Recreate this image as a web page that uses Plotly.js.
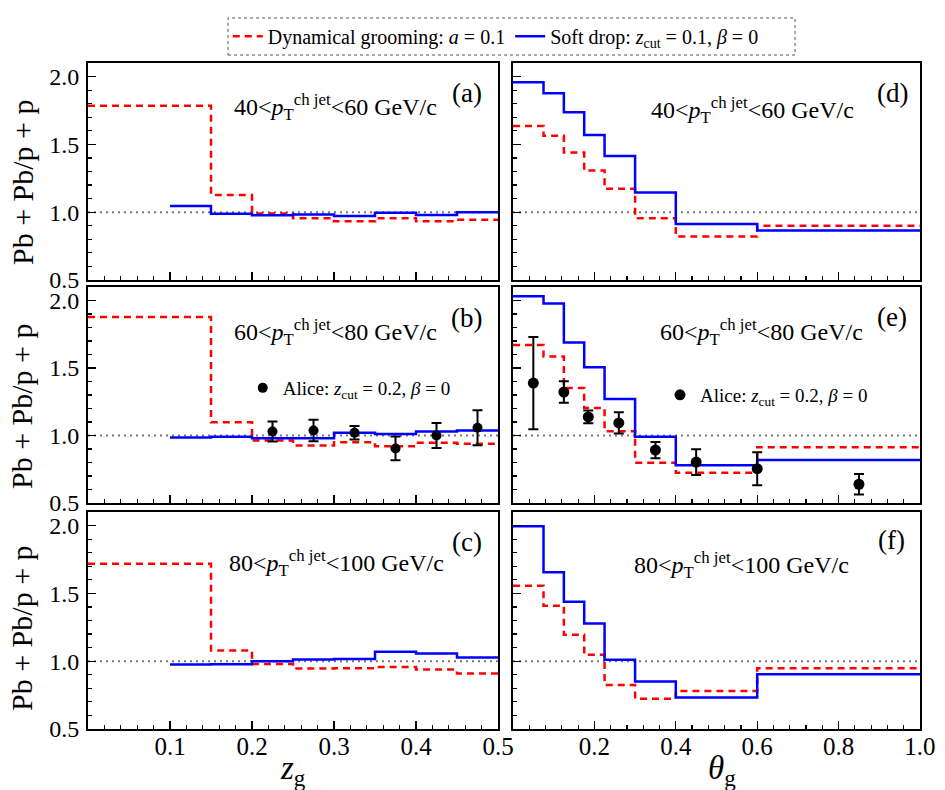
<!DOCTYPE html>
<html>
<head>
<meta charset="utf-8">
<script src="https://cdn.plot.ly/plotly-3.0.1.min.js"></script>
<style>html,body{margin:0;padding:0;background:#fff;}#chart{width:945px;height:790px;}</style>
</head>
<body>
<div id="chart"></div>
<script>
// ---- Data ----
const zEdgesDG = [0, 0.15, 0.2, 0.25, 0.3, 0.35, 0.4, 0.45, 0.5];
const zEdgesSD = [0.1, 0.15, 0.2, 0.25, 0.3, 0.35, 0.4, 0.45, 0.5];
const thEdges = [0, 0.075, 0.125, 0.175, 0.225, 0.3, 0.4, 0.6, 1.0];

const zgDG_40_60 = [1.785, 1.127, 0.99, 0.956, 0.934, 0.956, 0.934, 0.944];
const zgSD_40_60 = [1.046, 0.988, 0.978, 0.983, 0.971, 0.995, 0.98, 1.0];
const zgDG_60_80 = [1.877, 1.098, 0.963, 0.926, 0.951, 0.921, 0.946, 0.939];
const zgSD_60_80 = [0.985, 0.99, 0.98, 0.98, 1.02, 1.012, 1.03, 1.037];
const zgDG_80_100 = [1.718, 1.078, 0.98, 0.946, 0.948, 0.958, 0.939, 0.909];
const zgSD_80_100 = [0.975, 0.977, 1.0, 1.012, 1.017, 1.069, 1.056, 1.027];

const thDG_40_60 = [1.636, 1.563, 1.44, 1.307, 1.172, 0.956, 0.82, 0.9];
const thSD_40_60 = [1.958, 1.877, 1.737, 1.570, 1.415, 1.145, 0.912, 0.865];
const thDG_60_80 = [1.671, 1.585, 1.351, 1.204, 1.032, 0.799, 0.725, 0.914];
const thSD_60_80 = [2.032, 1.978, 1.688, 1.506, 1.27, 0.99, 0.779, 0.818];
const thDG_80_100 = [1.557, 1.409, 1.195, 1.047, 0.825, 0.724, 0.78, 0.948];
const thSD_80_100 = [1.995, 1.655, 1.438, 1.278, 1.01, 0.85, 0.732, 0.904];

const aliceZgX = [0.225, 0.275, 0.325, 0.375, 0.425, 0.475];
const aliceZgY = [1.03, 1.037, 1.02, 0.904, 1.0, 1.057];
const aliceZgErr = [0.074, 0.08, 0.05, 0.088, 0.092, 0.13];
const aliceThX = [0.05, 0.125, 0.185, 0.26, 0.35, 0.45, 0.6, 0.85];
const aliceThY = [1.388, 1.322, 1.138, 1.093, 0.892, 0.803, 0.754, 0.639];
const aliceThErr = [0.342, 0.08, 0.047, 0.079, 0.06, 0.095, 0.122, 0.076];

const zTickVals = [0.1, 0.2, 0.3, 0.4, 0.5];
const zTickText = ['0.1', '0.2', '0.3', '0.4', '0.5'];
const thTickVals = [0.2, 0.4, 0.6, 0.8, 1.0];
const thTickText = ['0.2', '0.4', '0.6', '0.8', '1.0'];
const yTickVals = [0.5, 1.0, 1.5, 2.0];
const yTickText = ['0.5', '1.0', '1.5', '2.0'];
const unity = 1;

const ptLabels = ['40&lt;<i>p</i><sub>T</sub><sup>ch jet</sup>&lt;60 GeV/c',
                  '60&lt;<i>p</i><sub>T</sub><sup>ch jet</sup>&lt;80 GeV/c',
                  '80&lt;<i>p</i><sub>T</sub><sup>ch jet</sup>&lt;100 GeV/c'];
const panelTags = ['(a)', '(b)', '(c)', '(d)', '(e)', '(f)'];
const nameDG = 'Dynamical grooming: <i>a</i> = 0.1';
const nameSD = 'Soft drop: <i>z</i><sub>cut</sub> = 0.1, <i>β</i> = 0';
const nameAlice = 'Alice: <i>z</i><sub>cut</sub> = 0.2, <i>β</i> = 0';

// ---- Build ----
const FONT = "'Liberation Serif', 'DejaVu Serif', serif";
const RED = '#ff0000', BLUE = '#0000ff';

function step(edges, vals) {
  return {x: edges.slice(), y: vals.concat([vals[vals.length - 1]])};
}

const panels = [
  {xa: 'x', ya: 'y', dg: [zEdgesDG, zgDG_40_60], sd: [zEdgesSD, zgSD_40_60]},
  {xa: 'x2', ya: 'y2', dg: [zEdgesDG, zgDG_60_80], sd: [zEdgesSD, zgSD_60_80]},
  {xa: 'x3', ya: 'y3', dg: [zEdgesDG, zgDG_80_100], sd: [zEdgesSD, zgSD_80_100]},
  {xa: 'x4', ya: 'y4', dg: [thEdges, thDG_40_60], sd: [thEdges, thSD_40_60]},
  {xa: 'x5', ya: 'y5', dg: [thEdges, thDG_60_80], sd: [thEdges, thSD_60_80]},
  {xa: 'x6', ya: 'y6', dg: [thEdges, thDG_80_100], sd: [thEdges, thSD_80_100]}
];

const traces = [];
panels.forEach((p, i) => {
  const d = step(p.dg[0], p.dg[1]);
  traces.push({x: d.x, y: d.y, xaxis: p.xa, yaxis: p.ya, type: 'scatter', mode: 'lines',
    line: {shape: 'hv', color: RED, width: 2.5, dash: '7px,5px'},
    name: nameDG, showlegend: i === 0, legend: 'legend'});
  const s = step(p.sd[0], p.sd[1]);
  traces.push({x: s.x, y: s.y, xaxis: p.xa, yaxis: p.ya, type: 'scatter', mode: 'lines',
    line: {shape: 'hv', color: BLUE, width: 2.5},
    name: nameSD, showlegend: i === 0, legend: 'legend'});
});
traces.push({x: aliceZgX, y: aliceZgY, xaxis: 'x2', yaxis: 'y2', type: 'scatter', mode: 'markers',
  marker: {color: 'black', size: 10},
  error_y: {type: 'data', array: aliceZgErr, color: 'black', thickness: 2, width: 5},
  name: nameAlice, showlegend: true, legend: 'legend2'});
traces.push({x: aliceThX, y: aliceThY, xaxis: 'x5', yaxis: 'y5', type: 'scatter', mode: 'markers',
  marker: {color: 'black', size: 11},
  error_y: {type: 'data', array: aliceThErr, color: 'black', thickness: 2, width: 5},
  name: nameAlice, showlegend: true, legend: 'legend3'});

// geometry (paper fractions)
const xDomL = [0, 0.4928], xDomR = [0.5108, 1];
const yDoms = [[0.6742, 1], [0.3393, 0.6637], [0, 0.3258]];

function xAxis(dom, anchor, left, showLabels) {
  return {
    domain: dom, anchor: anchor, range: left ? [0, 0.5] : [0, 1.0],
    showgrid: false, zeroline: false, showline: true, mirror: true,
    linecolor: 'black', linewidth: 2,
    ticks: 'inside', ticklen: 8, tickwidth: 1.3, tickcolor: 'black',
    tickmode: 'array', tickvals: left ? zTickVals : thTickVals,
    ticktext: left ? zTickText : thTickText,
    showticklabels: showLabels, ticklabelstandoff: -6,
    tickfont: {family: FONT, size: 25, color: 'black'},
    minor: {ticks: 'inside', ticklen: 4, tickwidth: 1.2, tickcolor: 'black',
      tickmode: 'linear', tick0: 0, dtick: left ? 0.02 : 0.04, showgrid: false}
  };
}
function yAxis(dom, anchor, showLabels) {
  return {
    domain: dom, anchor: anchor, range: [0.5, 2.1],
    showgrid: false, zeroline: false, showline: true, mirror: true,
    linecolor: 'black', linewidth: 2,
    ticks: 'inside', ticklen: 8, tickwidth: 1.3, tickcolor: 'black',
    tickmode: 'array', tickvals: yTickVals, ticktext: yTickText,
    showticklabels: showLabels, ticklabelstandoff: 2,
    tickfont: {family: FONT, size: 24, color: 'black'},
    minor: {ticks: 'inside', ticklen: 4, tickwidth: 1.2, tickcolor: 'black',
      tickmode: 'linear', tick0: 0.5, dtick: 0.1, showgrid: false}
  };
}

const layout = {
  width: 945, height: 790,
  margin: {l: 88, r: 25, t: 63, b: 61},
  paper_bgcolor: 'white', plot_bgcolor: 'white',
  font: {family: FONT, color: 'black'},
  xaxis: xAxis(xDomL, 'y', true, false),
  xaxis2: xAxis(xDomL, 'y2', true, false),
  xaxis3: xAxis(xDomL, 'y3', true, true),
  xaxis4: xAxis(xDomR, 'y4', false, false),
  xaxis5: xAxis(xDomR, 'y5', false, false),
  xaxis6: xAxis(xDomR, 'y6', false, true),
  yaxis: yAxis(yDoms[0], 'x', true),
  yaxis2: yAxis(yDoms[1], 'x2', true),
  yaxis3: yAxis(yDoms[2], 'x3', true),
  yaxis4: yAxis(yDoms[0], 'x4', false),
  yaxis5: yAxis(yDoms[1], 'x5', false),
  yaxis6: yAxis(yDoms[2], 'x6', false),
  legend: {orientation: 'h', x: 0.168, xanchor: 'left', y: 1.04, yanchor: 'middle',
    xref: 'paper', yref: 'paper', bgcolor: 'rgba(0,0,0,0)', borderwidth: 0,
    font: {family: FONT, size: 20, color: 'black'}, tracegroupgap: 0, itemwidth: 30},
  legend2: {x: 0.186, xanchor: 'left', y: 0.512, yanchor: 'middle', bgcolor: 'rgba(0,0,0,0)',
    font: {family: FONT, size: 19, color: 'black'}, itemwidth: 30},
  legend3: {x: 0.6875, xanchor: 'left', y: 0.5015, yanchor: 'middle', bgcolor: 'rgba(0,0,0,0)',
    font: {family: FONT, size: 19, color: 'black'}, itemwidth: 30},
  shapes: [],
  annotations: []
};

// dotted reference lines at unity
['', '2', '3', '4', '5', '6'].forEach(s => {
  layout.shapes.push({type: 'line', xref: 'x' + s + ' domain', x0: 0, x1: 1,
    yref: 'y' + s, y0: unity, y1: unity, line: {color: '#777', width: 2, dash: '2px,4px'}, layer: 'below'});
});
// dashed legend frame
layout.shapes.push({type: 'rect', xref: 'paper', yref: 'paper', x0: 0.1683, x1: 0.8498, y0: 1.012, y1: 1.0676,
  line: {color: '#555', width: 1, dash: '3px,3px'}});

const tagPos = [[0.4555, 0.955], [0.4555, 0.617], [0.4555, 0.2808], [0.9675, 0.955], [0.9663, 0.6186], [0.9663, 0.2838]];
panelTags.forEach((t, i) => {
  layout.annotations.push({text: t, xref: 'paper', yref: 'paper', x: tagPos[i][0], y: tagPos[i][1],
    xanchor: 'center', yanchor: 'middle', showarrow: false, font: {family: FONT, size: 27, color: 'black'}});
});
const ptPos = [[0.298, 0.934], [0.298, 0.596], [0.299, 0.249], [0.799, 0.929], [0.810, 0.596], [0.786, 0.246]];
ptPos.forEach((p, i) => {
  layout.annotations.push({text: ptLabels[i % 3], xref: 'paper', yref: 'paper', x: p[0], y: p[1],
    xanchor: 'center', yanchor: 'middle', showarrow: false, font: {family: FONT, size: 24, color: 'black'}});
});
// y titles
[0.8213, 0.485, 0.1517].forEach(y => {
  layout.annotations.push({text: 'Pb + Pb/p + p', xref: 'paper', yref: 'paper', x: -0.0793, y: y,
    xanchor: 'center', yanchor: 'middle', textangle: -90, showarrow: false,
    font: {family: FONT, size: 30, color: 'black'}});
});
// x titles
layout.annotations.push({text: '<i>z</i><sub>g</sub>', xref: 'paper', yref: 'paper', x: 0.2464, y: -0.0616,
  xanchor: 'center', yanchor: 'middle', showarrow: false, font: {family: FONT, size: 33, color: 'black'}});
layout.annotations.push({text: '<i>θ</i><sub>g</sub>', xref: 'paper', yref: 'paper', x: 0.762, y: -0.0616,
  xanchor: 'center', yanchor: 'middle', showarrow: false, font: {family: FONT, size: 33, color: 'black'}});

Plotly.newPlot('chart', traces, layout, {staticPlot: true, displayModeBar: false});
</script>
</body>
</html>
